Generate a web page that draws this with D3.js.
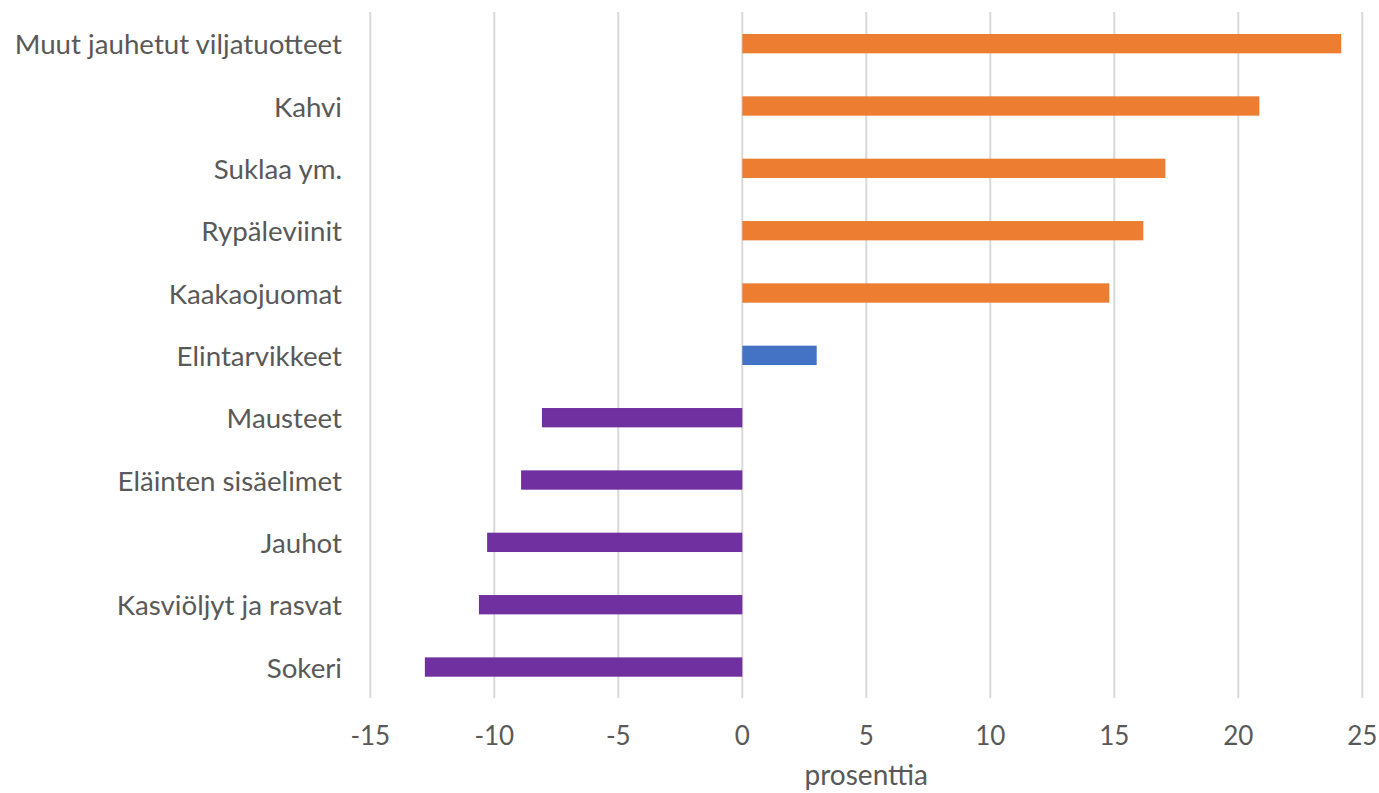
<!DOCTYPE html>
<html><head><meta charset="utf-8">
<script src="https://cdn.jsdelivr.net/npm/d3@7"></script>
<style>body{margin:0;background:#fff;} svg{display:block;} text{font-family:"Lato","Open Sans",sans-serif;fill:#595959;}</style>
</head><body>
<svg id="c" width="1379" height="793"></svg>
<script>
const categories = ["Muut jauhetut viljatuotteet","Kahvi","Suklaa ym.","Rypäleviinit","Kaakaojuomat","Elintarvikkeet","Mausteet","Eläinten sisäelimet","Jauhot","Kasviöljyt ja rasvat","Sokeri"];
const values = [24.15, 20.85, 17.06, 16.17, 14.8, 3.0, -8.08, -8.92, -10.29, -10.62, -12.8];
const groups = ["nousu","nousu","nousu","nousu","nousu","kaikki","lasku","lasku","lasku","lasku","lasku"];
const tickValues = [-15,-10,-5,0,5,10,15,20,25];
const axisTitle = "prosenttia";

const colors = {nousu:"#ED7D31", kaikki:"#4472C4", lasku:"#7030A0"};
const svg = d3.select("#c");
const x = d3.scaleLinear().domain([-15,25]).range([370.3,1362.3]);
const y = d3.scaleBand().domain(categories).range([12.5,698.2]).paddingInner(0.69).paddingOuter(0.345);

svg.append("g").selectAll("line").data(tickValues).join("line")
  .attr("x1",d=>x(d)).attr("x2",d=>x(d)).attr("y1",12).attr("y2",698)
  .attr("stroke","#d9d9d9").attr("stroke-width",2);

svg.append("g").selectAll("rect").data(values).join("rect")
  .attr("x",d=>x(Math.min(0,d))).attr("width",d=>Math.abs(x(d)-x(0)))
  .attr("y",(d,i)=>y(categories[i])).attr("height",y.bandwidth())
  .attr("fill",(d,i)=>colors[groups[i]]);

svg.append("g").selectAll("text").data(categories).join("text")
  .attr("x",342).attr("y",d=>y(d)+y.bandwidth()/2+10.5)
  .attr("text-anchor","end").attr("font-size",27.7).text(d=>d);

svg.append("g").selectAll("text").data(tickValues).join("text")
  .attr("x",d=>x(d)).attr("y",745)
  .attr("text-anchor","middle").attr("font-size",26).text(d=>d);

svg.append("text").attr("x",(x(-15)+x(25))/2).attr("y",785)
  .attr("text-anchor","middle").attr("font-size",28).text(axisTitle);
</script>
</body></html>
